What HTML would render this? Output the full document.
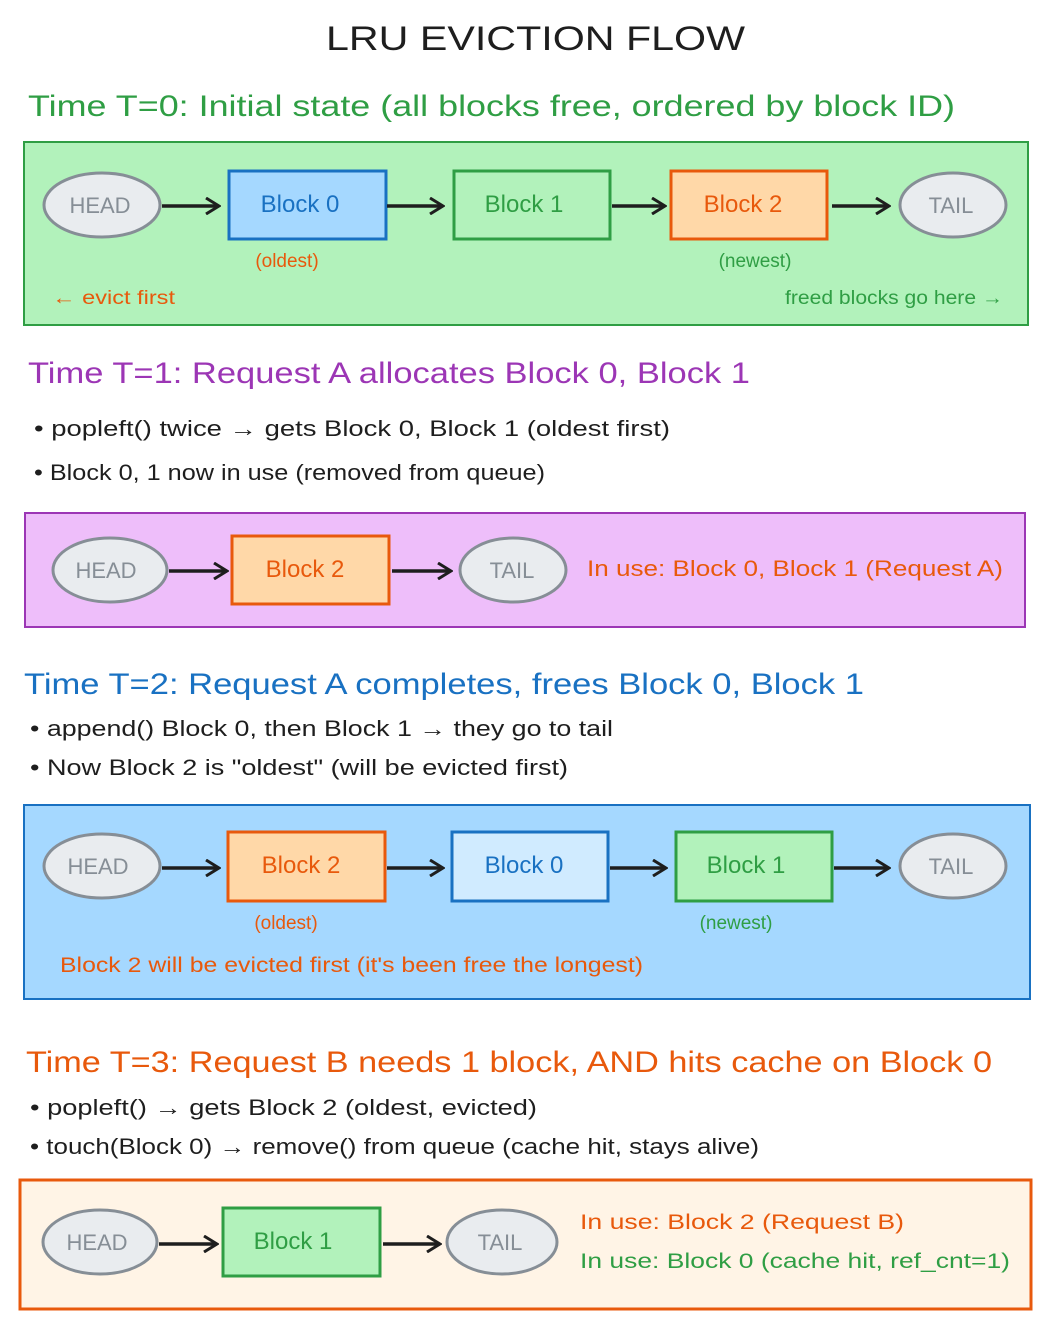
<!DOCTYPE html>
<html><head><meta charset="utf-8"><style>
html,body{margin:0;padding:0;background:#fff;}
svg{display:block;}
text{font-family:"Liberation Sans",sans-serif;}
</style></head><body>
<svg width="1058" height="1336" viewBox="0 0 1058 1336" xmlns="http://www.w3.org/2000/svg">
<defs>
<marker id="ah" markerWidth="16" markerHeight="18" refX="13" refY="9" orient="auto" markerUnits="userSpaceOnUse">
<path d="M1,1 L14,9 L1,17" fill="none" stroke="#1e1e1e" stroke-width="3"/>
</marker>
</defs>
<rect width="1058" height="1336" fill="#fff"/>
<text x="326" y="50" font-size="34" fill="#1e1e1e" textLength="419" lengthAdjust="spacingAndGlyphs">LRU EVICTION FLOW</text>

<!-- Section 1 -->
<text x="28" y="116" font-size="30" fill="#2f9e44" textLength="927" lengthAdjust="spacingAndGlyphs">Time T=0: Initial state (all blocks free, ordered by block ID)</text>
<rect x="24" y="142" width="1004" height="183" fill="#b2f2bb" stroke="#2f9e44" stroke-width="2"/>
<ellipse cx="102" cy="205" rx="58" ry="32" fill="#e9ecef" stroke="#868e96" stroke-width="3"/>
<text x="100" y="213" font-size="22" fill="#868e96" text-anchor="middle">HEAD</text>
<rect x="229" y="171" width="157" height="68" fill="#a5d8ff" stroke="#1971c2" stroke-width="3"/>
<text x="300" y="212" font-size="24" fill="#1971c2" text-anchor="middle">Block 0</text>
<rect x="454" y="171" width="156" height="68" fill="#b2f2bb" stroke="#2f9e44" stroke-width="3"/>
<text x="524" y="212" font-size="24" fill="#2f9e44" text-anchor="middle">Block 1</text>
<rect x="671" y="171" width="156" height="68" fill="#ffd8a8" stroke="#e8590c" stroke-width="3"/>
<text x="743" y="212" font-size="24" fill="#e8590c" text-anchor="middle">Block 2</text>
<ellipse cx="953" cy="205" rx="53" ry="32" fill="#e9ecef" stroke="#868e96" stroke-width="3"/>
<text x="951" y="213" font-size="22" fill="#868e96" text-anchor="middle">TAIL</text>
<g stroke="#1e1e1e" stroke-width="3.5" marker-end="url(#ah)">
<line x1="162" y1="206" x2="218" y2="206"/><line x1="387" y1="206" x2="442" y2="206"/>
<line x1="612" y1="206" x2="664" y2="206"/><line x1="832" y1="206" x2="888" y2="206"/>
</g>
<text x="287" y="267" font-size="19" fill="#e8590c" text-anchor="middle">(oldest)</text>
<text x="755" y="267" font-size="19" fill="#2f9e44" text-anchor="middle">(newest)</text>
<text x="52" y="304" font-size="19" fill="#e8590c" textLength="123" lengthAdjust="spacingAndGlyphs">← evict first</text>
<text x="785" y="304" font-size="19" fill="#2f9e44" textLength="218" lengthAdjust="spacingAndGlyphs">freed blocks go here →</text>

<!-- Section 2 -->
<text x="28" y="383" font-size="30" fill="#9c36b5" textLength="722" lengthAdjust="spacingAndGlyphs">Time T=1: Request A allocates Block 0, Block 1</text>
<text x="34" y="436" font-size="22" fill="#1e1e1e" textLength="636" lengthAdjust="spacingAndGlyphs">• popleft() twice → gets Block 0, Block 1 (oldest first)</text>
<text x="34" y="480" font-size="22" fill="#1e1e1e" textLength="511" lengthAdjust="spacingAndGlyphs">• Block 0, 1 now in use (removed from queue)</text>
<rect x="25" y="513" width="1000" height="114" fill="#eebefa" stroke="#9c36b5" stroke-width="2"/>
<ellipse cx="110" cy="570" rx="57" ry="32" fill="#e9ecef" stroke="#868e96" stroke-width="3"/>
<text x="106" y="578" font-size="22" fill="#868e96" text-anchor="middle">HEAD</text>
<rect x="232" y="536" width="157" height="68" fill="#ffd8a8" stroke="#e8590c" stroke-width="3"/>
<text x="305" y="577" font-size="24" fill="#e8590c" text-anchor="middle">Block 2</text>
<ellipse cx="513" cy="570" rx="53" ry="32" fill="#e9ecef" stroke="#868e96" stroke-width="3"/>
<text x="512" y="578" font-size="22" fill="#868e96" text-anchor="middle">TAIL</text>
<g stroke="#1e1e1e" stroke-width="3.5" marker-end="url(#ah)">
<line x1="169" y1="571" x2="226" y2="571"/><line x1="392" y1="571" x2="450" y2="571"/>
</g>
<text x="587" y="576" font-size="22" fill="#e8590c" textLength="416" lengthAdjust="spacingAndGlyphs">In use: Block 0, Block 1 (Request A)</text>

<!-- Section 3 -->
<text x="24" y="694" font-size="30" fill="#1971c2" textLength="840" lengthAdjust="spacingAndGlyphs">Time T=2: Request A completes, frees Block 0, Block 1</text>
<text x="30" y="736" font-size="22" fill="#1e1e1e" textLength="583" lengthAdjust="spacingAndGlyphs">• append() Block 0, then Block 1 → they go to tail</text>
<text x="30" y="775" font-size="22" fill="#1e1e1e" textLength="538" lengthAdjust="spacingAndGlyphs">• Now Block 2 is "oldest" (will be evicted first)</text>
<rect x="24" y="805" width="1006" height="194" fill="#a5d8ff" stroke="#1971c2" stroke-width="2"/>
<ellipse cx="102" cy="866" rx="58" ry="32" fill="#e9ecef" stroke="#868e96" stroke-width="3"/>
<text x="98" y="874" font-size="22" fill="#868e96" text-anchor="middle">HEAD</text>
<rect x="228" y="832" width="157" height="69" fill="#ffd8a8" stroke="#e8590c" stroke-width="3"/>
<text x="301" y="873" font-size="24" fill="#e8590c" text-anchor="middle">Block 2</text>
<rect x="452" y="832" width="156" height="69" fill="#d0ebff" stroke="#1971c2" stroke-width="3"/>
<text x="524" y="873" font-size="24" fill="#1971c2" text-anchor="middle">Block 0</text>
<rect x="676" y="832" width="156" height="69" fill="#b2f2bb" stroke="#2f9e44" stroke-width="3"/>
<text x="746" y="873" font-size="24" fill="#2f9e44" text-anchor="middle">Block 1</text>
<ellipse cx="953" cy="866" rx="53" ry="32" fill="#e9ecef" stroke="#868e96" stroke-width="3"/>
<text x="951" y="874" font-size="22" fill="#868e96" text-anchor="middle">TAIL</text>
<g stroke="#1e1e1e" stroke-width="3.5" marker-end="url(#ah)">
<line x1="162" y1="868" x2="218" y2="868"/><line x1="387" y1="868" x2="442" y2="868"/>
<line x1="610" y1="868" x2="665" y2="868"/><line x1="834" y1="868" x2="888" y2="868"/>
</g>
<text x="286" y="929" font-size="19" fill="#e8590c" text-anchor="middle">(oldest)</text>
<text x="736" y="929" font-size="19" fill="#2f9e44" text-anchor="middle">(newest)</text>
<text x="60" y="972" font-size="21" fill="#e8590c" textLength="583" lengthAdjust="spacingAndGlyphs">Block 2 will be evicted first (it's been free the longest)</text>

<!-- Section 4 -->
<text x="26" y="1072" font-size="30" fill="#e8590c" textLength="966" lengthAdjust="spacingAndGlyphs">Time T=3: Request B needs 1 block, AND hits cache on Block 0</text>
<text x="30" y="1115" font-size="22" fill="#1e1e1e" textLength="507" lengthAdjust="spacingAndGlyphs">• popleft() → gets Block 2 (oldest, evicted)</text>
<text x="30" y="1154" font-size="22" fill="#1e1e1e" textLength="729" lengthAdjust="spacingAndGlyphs">• touch(Block 0) → remove() from queue (cache hit, stays alive)</text>
<rect x="20" y="1180" width="1011" height="129" fill="#fff4e6" stroke="#e8590c" stroke-width="3"/>
<ellipse cx="100" cy="1242" rx="57" ry="32" fill="#e9ecef" stroke="#868e96" stroke-width="3"/>
<text x="97" y="1250" font-size="22" fill="#868e96" text-anchor="middle">HEAD</text>
<rect x="223" y="1208" width="157" height="68" fill="#b2f2bb" stroke="#2f9e44" stroke-width="3"/>
<text x="293" y="1249" font-size="24" fill="#2f9e44" text-anchor="middle">Block 1</text>
<ellipse cx="502" cy="1242" rx="55" ry="32" fill="#e9ecef" stroke="#868e96" stroke-width="3"/>
<text x="500" y="1250" font-size="22" fill="#868e96" text-anchor="middle">TAIL</text>
<g stroke="#1e1e1e" stroke-width="3.5" marker-end="url(#ah)">
<line x1="159" y1="1244" x2="216" y2="1244"/><line x1="383" y1="1244" x2="439" y2="1244"/>
</g>
<text x="580" y="1229" font-size="21" fill="#e8590c" textLength="324" lengthAdjust="spacingAndGlyphs">In use: Block 2 (Request B)</text>
<text x="580" y="1268" font-size="21" fill="#2f9e44" textLength="430" lengthAdjust="spacingAndGlyphs">In use: Block 0 (cache hit, ref_cnt=1)</text>
</svg>
</body></html>
